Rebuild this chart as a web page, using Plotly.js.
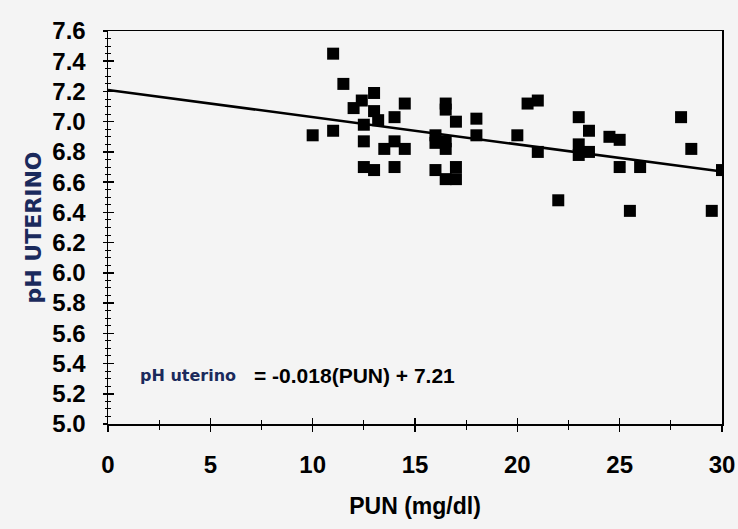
<!DOCTYPE html>
<html>
<head>
<meta charset="utf-8">
<script src="https://cdn.plot.ly/plotly-3.0.1.min.js"></script>
<style>
  html, body { margin: 0; padding: 0; background: #f4f4f4; }
  #chart { width: 738px; height: 529px; }
</style>
</head>
<body>
<div id="chart"></div>
<script>
// Blood urea nitrogen (PUN, mg/dl) against uterine pH, one point per animal
const pun = [10, 11, 11, 11.5, 12, 12.4, 12.5, 12.5, 12.5, 13, 13, 13, 13.2, 13.5,
             14, 14, 14, 14.5, 14.5, 16, 16, 16, 16.5, 16.5, 16.5, 16.5, 16.5,
             17, 17, 17, 18, 18, 20, 20.5, 21, 21, 22, 23, 23, 23, 23.5, 23.5,
             24.5, 25, 25, 25.5, 26, 28, 28.5, 29.5, 30];
const phUterino = [6.91, 7.45, 6.94, 7.25, 7.09, 7.14, 6.98, 6.87, 6.70, 7.19, 7.07, 6.68, 7.01, 6.82,
                   7.03, 6.87, 6.70, 7.12, 6.82, 6.91, 6.86, 6.68, 7.12, 7.08, 6.87, 6.82, 6.62,
                   7.00, 6.70, 6.62, 7.02, 6.91, 6.91, 7.12, 7.14, 6.80, 6.48, 7.03, 6.85, 6.78, 6.94, 6.80,
                   6.90, 6.88, 6.70, 6.41, 6.70, 7.03, 6.82, 6.41, 6.68];

// Fitted regression: pH uterino = -0.018(PUN) + 7.21
const slope = -0.018;
const intercept = 7.21;
const fitX = [0, 30];
const fitY = fitX.map(v => slope * v + intercept);

const xTickVals = [0, 5, 10, 15, 20, 25, 30];
const yTickVals = [5.0, 5.2, 5.4, 5.6, 5.8, 6.0, 6.2, 6.4, 6.6, 6.8, 7.0, 7.2, 7.4, 7.6];
const yTickText = yTickVals.map(v => v.toFixed(1));

const tickFont = { family: 'Liberation Sans, Arial, sans-serif', size: 24, color: '#000', weight: 'bold' };

const traces = [
  {
    x: fitX, y: fitY, type: 'scatter', mode: 'lines',
    line: { color: '#000', width: 2.5 }, hoverinfo: 'skip', showlegend: false
  },
  {
    x: pun, y: phUterino, type: 'scatter', mode: 'markers',
    marker: { symbol: 'square', size: 12, color: '#000' }, showlegend: false
  }
];

const layout = {
  width: 738, height: 529,
  paper_bgcolor: '#f4f4f4', plot_bgcolor: '#f4f4f4',
  margin: { l: 108, r: 16, t: 31, b: 105 },
  showlegend: false,
  xaxis: {
    range: [0, 30], tickvals: xTickVals, ticktext: xTickVals.map(String),
    showgrid: false, zeroline: false,
    showline: true, linecolor: '#000', linewidth: 1.5, mirror: true,
    ticks: 'outside', ticklen: 6, tickwidth: 1.5, tickcolor: '#000',
    minor: { dtick: 2.5, ticks: 'outside', ticklen: 4, tickwidth: 1, tickcolor: '#000', showgrid: false },
    tickfont: tickFont, ticklabelstandoff: 13,
    title: { text: 'PUN (mg/dl)', font: { family: 'Liberation Sans, Arial, sans-serif', size: 23, color: '#000', weight: 'bold' }, standoff: 20 }
  },
  xaxis2: {
    overlaying: 'x', matches: 'x', range: [0, 30], side: 'bottom',
    tickvals: xTickVals, showticklabels: false, showgrid: false, zeroline: false,
    showline: false, ticks: 'inside', ticklen: 6, tickwidth: 1.5, tickcolor: '#000',
    minor: { dtick: 2.5, ticks: 'inside', ticklen: 4, tickwidth: 1, tickcolor: '#000', showgrid: false }
  },
  yaxis: {
    range: [5.0, 7.6], tickvals: yTickVals, ticktext: yTickText,
    showgrid: false, zeroline: false,
    showline: true, linecolor: '#000', linewidth: 1.5, mirror: true,
    ticks: 'outside', ticklen: 4, tickwidth: 1.5, tickcolor: '#000',
    minor: { dtick: 0.05, ticks: 'outside', ticklen: 2, tickwidth: 1, tickcolor: '#000', showgrid: false },
    tickfont: tickFont, ticklabelstandoff: 12,
    title: { text: 'pH UTERINO', font: { family: 'DejaVu Sans, Verdana, sans-serif', size: 22, color: '#1b2a5c', weight: 'bold' }, standoff: 4 }
  },
  yaxis2: {
    overlaying: 'y', matches: 'y', range: [5.0, 7.6], side: 'left',
    tickvals: yTickVals, showticklabels: false, showgrid: false, zeroline: false,
    showline: false, ticks: 'inside', ticklen: 6, tickwidth: 1.5, tickcolor: '#000',
    minor: { dtick: 0.05, ticks: 'inside', ticklen: 3, tickwidth: 1, tickcolor: '#000', showgrid: false }
  },
  annotations: [
    {
      x: 1.45, y: 5.32, xref: 'x', yref: 'y', xanchor: 'left', yanchor: 'middle',
      text: 'pH uterino', showarrow: false,
      font: { family: 'DejaVu Sans, Verdana, sans-serif', size: 16, color: '#1b2a5c', weight: 'bold' }
    },
    {
      x: 7.05, y: 5.32, xref: 'x', yref: 'y', xanchor: 'left', yanchor: 'middle',
      text: '= -0.018(PUN) + 7.21', showarrow: false,
      font: { family: 'Liberation Sans, Arial, sans-serif', size: 21, color: '#000', weight: 'bold' }
    }
  ]
};

// Invisible anchor trace so the overlay axes (the inner half of each tick) render
traces.push({ x: [0], y: [5], xaxis: 'x2', yaxis: 'y2', mode: 'markers', marker: { opacity: 0 }, hoverinfo: 'skip', showlegend: false });

Plotly.newPlot('chart', traces, layout, { staticPlot: true });
</script>
</body>
</html>
